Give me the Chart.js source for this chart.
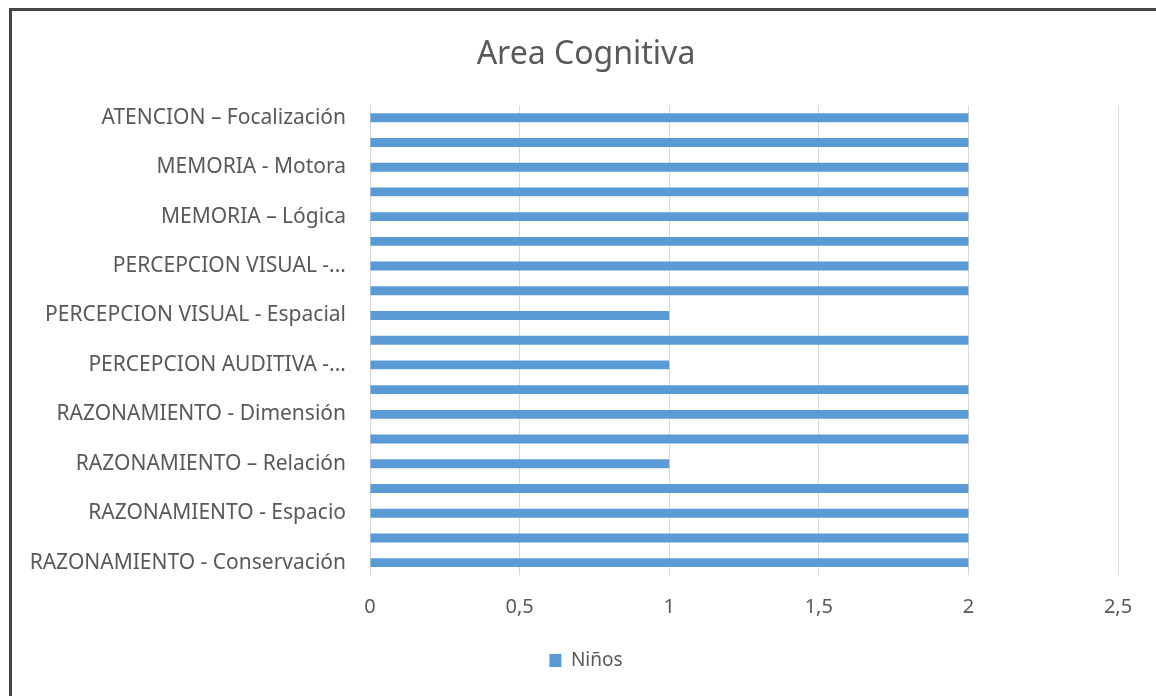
<!DOCTYPE html>
<html>
<head>
<meta charset="utf-8">
<script src="https://cdn.jsdelivr.net/npm/chart.js@4/dist/chart.umd.min.js"></script>
<style>
  html, body { margin: 0; padding: 0; background: #fff; }
  #wrap { position: relative; width: 1156px; height: 696px; overflow: hidden; }
  #frame {
    position: absolute; left: 9px; top: 8px; width: 1200px; height: 760px;
    border-left: 3px solid #444; border-top: 3px solid #444; pointer-events: none;
  }
  canvas { position: absolute; left: 0; top: 0; }
</style>
</head>
<body>
<div id="wrap">
  <canvas id="chart" width="1156" height="696"></canvas>
  <div id="frame"></div>
</div>
<script>
// Categorías (de arriba hacia abajo); las filas sin etiqueta visible quedan vacías
const categories = [
    'ATENCION – Focalización', '',
    'MEMORIA - Motora', '',
    'MEMORIA – Lógica', '',
    'PERCEPCION VISUAL -...', '',
    'PERCEPCION VISUAL - Espacial', '',
    'PERCEPCION AUDITIVA -...', '',
    'RAZONAMIENTO - Dimensión', '',
    'RAZONAMIENTO – Relación', '',
    'RAZONAMIENTO - Espacio', '',
    'RAZONAMIENTO - Conservación'
];

const ninos = [2, 2, 2, 2, 2, 2, 2, 2, 1, 2, 1, 2, 2, 2, 1, 2, 2, 2, 2];

const seriesLabel = 'Niños';
const chartTitle = 'Area Cognitiva';
const xTicks = [0, 0.5, 1, 1.5, 2, 2.5];

const fontFamily = '"Noto Sans", "Open Sans", sans-serif';
const textColor = '#595959';

// Centra título y leyenda dentro del marco (no sobre todo el canvas)
const shiftBlocks = {
    id: 'shiftBlocks',
    afterLayout(chart) {
        [chart.titleBlock, chart.legend].forEach(b => {
            if (b) { b.left = 54; b.right = 1118; }
        });
    }
};

const ctx = document.getElementById('chart').getContext('2d');

new Chart(ctx, {
    type: 'bar',
    data: {
        labels: categories,
        datasets: [{
            label: seriesLabel,
            data: ninos,
            backgroundColor: '#5b9bd5',
            borderWidth: 0,
            categoryPercentage: 1,
            barPercentage: 0.36
        }]
    },
    options: {
        indexAxis: 'y',
        responsive: false,
        animation: false,
        layout: { padding: { left: 0, right: 38, top: 0, bottom: 16 } },
        scales: {
            x: {
                min: 0,
                max: 2.5,
                afterBuildTicks: (scale) => {
                    scale.ticks = xTicks.map(v => ({ value: v }));
                },
                afterFit: (scale) => { scale.height = 66; },
                grid: { color: '#d9d9d9', lineWidth: 1, drawTicks: false },
                border: { display: false },
                ticks: {
                    padding: 20,
                    color: textColor,
                    font: { family: fontFamily, size: 20 },
                    callback: (v) => String(v).replace('.', ',')
                }
            },
            y: {
                afterFit: (scale) => { scale.width = 370; },
                grid: { display: false, drawTicks: false },
                border: { display: true, color: '#d9d9d9', width: 1 },
                ticks: {
                    autoSkip: false,
                    padding: 24,
                    color: textColor,
                    font: { family: fontFamily, size: 21 },
                    callback: (v, i) => categories[i]
                }
            }
        },
        plugins: {
            title: {
                display: true,
                text: chartTitle,
                color: textColor,
                font: { family: fontFamily, size: 32, weight: 'normal' },
                padding: { top: 36, bottom: 31 }
            },
            legend: {
                position: 'bottom',
                labels: {
                    color: textColor,
                    font: { family: fontFamily, size: 19 },
                    boxWidth: 12,
                    boxHeight: 13,
                    padding: 10
                }
            },
            tooltip: { enabled: false }
        }
    },
    plugins: [shiftBlocks]
});
</script>
</body>
</html>
